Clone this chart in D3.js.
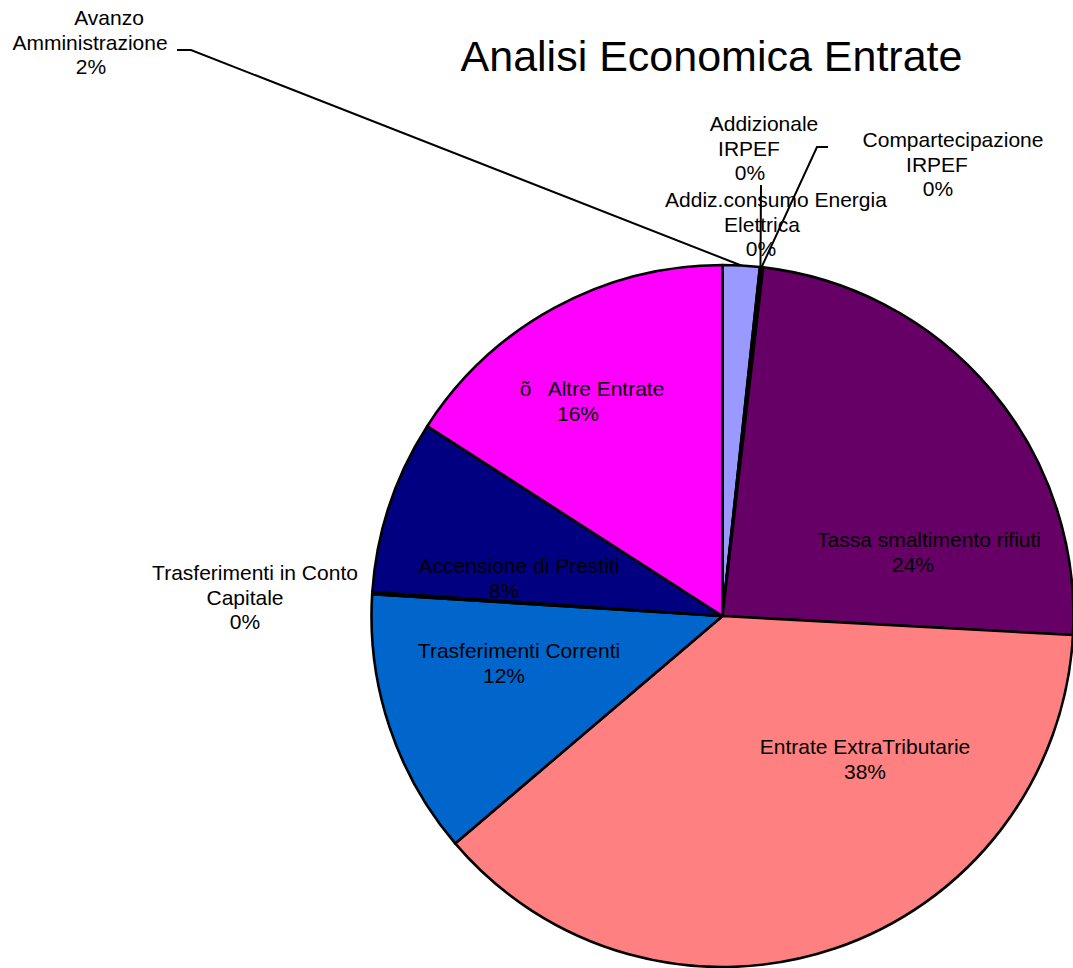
<!DOCTYPE html>
<html>
<head>
<meta charset="utf-8">
<script src="https://cdn.jsdelivr.net/npm/d3@7"></script>
<style>
  body { margin: 0; background: #fff; }
  text { font-family: "Liberation Sans", Arial, sans-serif; fill: #000; white-space: pre; }
</style>
</head>
<body>
<div class="chart"></div>
<script>
// voci di entrata, in senso orario dalle ore 12
var categories = [
  'Avanzo Amministrazione',
  'Addizionale IRPEF',
  'Compartecipazione IRPEF',
  'Addiz.consumo Energia Elettrica',
  'Tassa smaltimento rifiuti',
  'Entrate ExtraTributarie',
  'Trasferimenti Correnti',
  'Trasferimenti in Conto Capitale',
  'Accensione di Prestiti',
  'Altre Entrate'
];
// quote in %
var values = [1.7, 0.05, 0.05, 0.05, 24.0, 37.9, 12.2, 0.1, 8.0, 15.9];
// testo delle etichette (a capo come nell'originale)
var labelLines = [
  ['Avanzo', 'Amministrazione'],
  ['Addizionale', 'IRPEF'],
  ['Compartecipazione', 'IRPEF'],
  ['Addiz.consumo Energia', 'Elettrica'],
  ['Tassa smaltimento rifiuti'],
  ['Entrate ExtraTributarie'],
  ['Trasferimenti Correnti'],
  ['Trasferimenti in Conto', 'Capitale'],
  ['Accensione di Prestiti'],
  ['õ   Altre Entrate']
];
var colors = ['#9999FF', '#993366', '#FFFFCC', '#CCFFFF', '#660066',
              '#FF8080', '#0066CC', '#CCCCFF', '#000080', '#FF00FF'];

var width = 1073, height = 968;
var cx = 722.5, cy = 616, radius = 351;
var lineH = 24.5;

// posizione etichette: x di ogni riga, y della prima linea di base
var labelLayout = [
  { xs: [109, 90, 91], y: 25 },
  { xs: [764, 749, 750], y: 131 },
  { xs: [953, 937, 938], y: 147 },
  { xs: [776, 762, 761], y: 207 },
  { xs: [929, 913], y: 547 },
  { xs: [865, 865], y: 754 },
  { xs: [519, 504], y: 658 },
  { xs: [255, 245, 245], y: 580 },
  { xs: [519, 504], y: 573 },
  { xs: [592, 578], y: 396 }
];
// linee guida: punti di partenza (prima dell'arco)
var leaders = [
  { i: 0, pts: [[177, 50], [191, 50]] },
  { i: 1, pts: [[761, 185]] },
  { i: 2, pts: [[828, 147], [817, 147]] }
];

var svg = d3.select('.chart')
  .append('svg')
    .attr('width', width)
    .attr('height', height);

var data = categories.map(function (c, i) { return { name: c, value: values[i], i: i }; });
var total = d3.sum(values);

var pie = d3.pie().sort(null).value(function (d) { return d.value; });
var arcs = pie(data);
var arc = d3.arc().innerRadius(0).outerRadius(radius);

var g = svg.append('g').attr('transform', `translate(${cx}, ${cy})`);

g.selectAll('path.slice')
  .data(arcs)
  .enter().append('path')
    .attr('class', 'slice')
    .attr('d', arc)
    .style('fill', function (d) { return colors[d.data.i]; })
    .style('stroke', '#000')
    .style('stroke-width', 2.6)
    .style('stroke-linejoin', 'round');

// linee guida verso il punto medio dell'arco
leaders.forEach(function (l) {
  var a = arcs[l.i];
  var mid = (a.startAngle + a.endAngle) / 2;
  var end = [cx + radius * Math.sin(mid), cy - radius * Math.cos(mid)];
  svg.append('path')
    .attr('d', d3.line()(l.pts.concat([end])))
    .style('fill', 'none')
    .style('stroke', '#000')
    .style('stroke-width', 2);
});

// etichette
var fmt = function (v) { return Math.round(v / total * 100) + '%'; };
arcs.forEach(function (a, k) {
  var lay = labelLayout[k];
  var lines = labelLines[k].concat([fmt(a.data.value)]);
  var t = svg.append('text')
    .attr('xml:space', 'preserve')
    .style('font-size', '21px')
    .attr('text-anchor', 'middle');
  lines.forEach(function (s, j) {
    t.append('tspan')
      .attr('x', lay.xs[j])
      .attr('y', lay.y + j * lineH)
      .text(s);
  });
});

svg.append('text')
  .attr('x', 711.5)
  .attr('y', 71)
  .attr('text-anchor', 'middle')
  .style('font-size', '43px')
  .text('Analisi Economica Entrate');
</script>
</body>
</html>
